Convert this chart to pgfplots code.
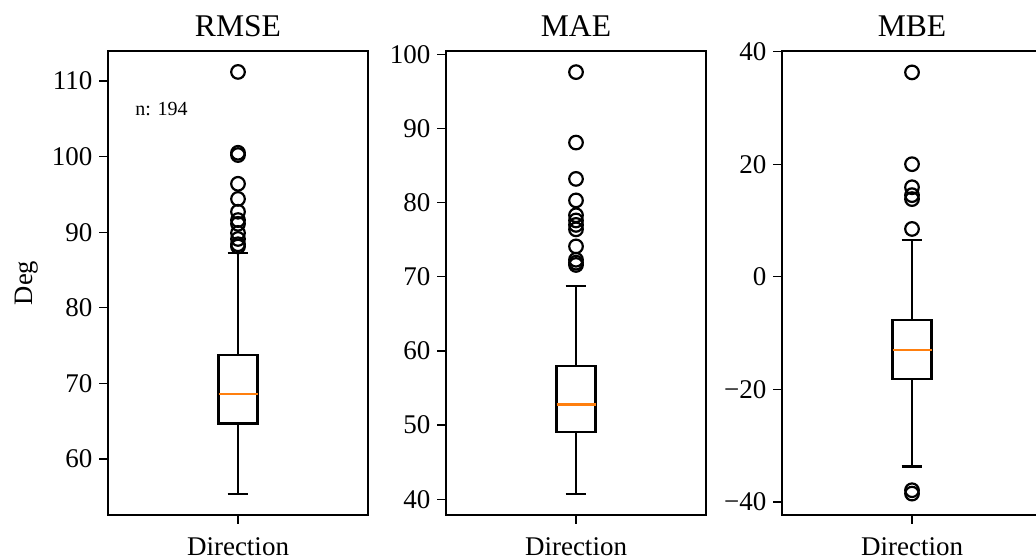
\documentclass[border=0pt]{standalone}
\usepackage{fontspec}
\setmainfont{Liberation Serif}
\usepackage{pgfplots}
\pgfplotsset{compat=1.18}
\usepgfplotslibrary{statistics}
\definecolor{mplorange}{HTML}{FF7F0E}
\pgfplotsset{
  myax/.style={
    scale only axis, width=130pt, height=232pt, anchor=south west,
    xmin=0.5, xmax=1.5, xtick={1}, xticklabels={Direction},
    tick align=outside, major tick length=4.3pt,
    tick style={black, line width=0.65pt},
    axis line style={line width=0.65pt},
    ytick pos=left, xtick pos=bottom,
    /pgf/number format/assume math mode=true,
    tick label style={font=\fontsize{13.5}{15}\selectfont},
    xticklabel style={yshift=-3.5pt},
    title style={font=\fontsize{15.8}{18}\selectfont, yshift=-2.5pt},
    ylabel style={font=\fontsize{13.3}{15}\selectfont},
    boxplot/draw direction=y,
  },
  mybox/.style={black, line width=1.1pt, mark=o, mark size=3.4pt,
    mark options={line width=1.1pt, solid},
    boxplot/every median/.style={draw=mplorange, line width=1.2pt}},
}
\begin{document}
\begin{tikzpicture}
\useasboundingbox (0pt,0pt) rectangle (518pt,-280pt);
% RMSE
\begin{axis}[myax, at={(54pt,-257.5pt)}, ymin=52.58, ymax=113.97,
  ytick={60,70,80,90,100,110}, title={RMSE}, ylabel={Deg}]
\addplot+[boxplot prepared={median=68.57, upper quartile=73.77,
  lower quartile=64.68, upper whisker=87.2, lower whisker=55.36,
  draw position=1, box extend=0.15, whisker extend=0.08, draw direction=y}, mybox]
  table[row sep=\\, y index=0] {y\\ 111.2\\ 100.5\\ 100.2\\ 96.4\\ 94.4\\ 92.7\\ 91.6\\ 91.1\\ 89.9\\ 89.1\\ 88.4\\ 88.1\\};
\node[anchor=base west, font=\fontsize{10}{12}\selectfont, inner sep=0pt]
  at (rel axis cs:0.104,0.862) {n: 194};
\end{axis}
% MAE
\begin{axis}[myax, at={(223pt,-257.5pt)}, ymin=37.88, ymax=100.45,
  ytick={40,50,60,70,80,90,100}, title={MAE}]
\addplot+[boxplot prepared={median=52.78, upper quartile=57.94,
  lower quartile=49.1, upper whisker=68.76, lower whisker=40.7,
  draw position=1, box extend=0.15, whisker extend=0.08, draw direction=y}, mybox]
  table[row sep=\\, y index=0] {y\\ 97.6\\ 88.1\\ 83.2\\ 80.3\\ 78.3\\ 77.6\\ 77.0\\ 76.4\\ 74.1\\ 72.3\\ 71.9\\ 71.6\\};
\end{axis}
% MBE
\begin{axis}[myax, at={(391pt,-257.5pt)}, ymin=-42.3, ymax=40.1,
  ytick={-40,-20,0,20,40}, yticklabels={−40,−20,0,20,40}, title={MBE}]
\addplot+[boxplot prepared={median=-13.0, upper quartile=-7.7,
  lower quartile=-18.1, upper whisker=6.55, lower whisker=-33.7,
  draw position=1, box extend=0.15, whisker extend=0.08, draw direction=y}, mybox]
  table[row sep=\\, y index=0] {y\\ 36.3\\ 20.0\\ 15.9\\ 14.5\\ 13.8\\ 8.5\\ -37.9\\ -38.5\\};
\end{axis}
\end{tikzpicture}
\end{document}
